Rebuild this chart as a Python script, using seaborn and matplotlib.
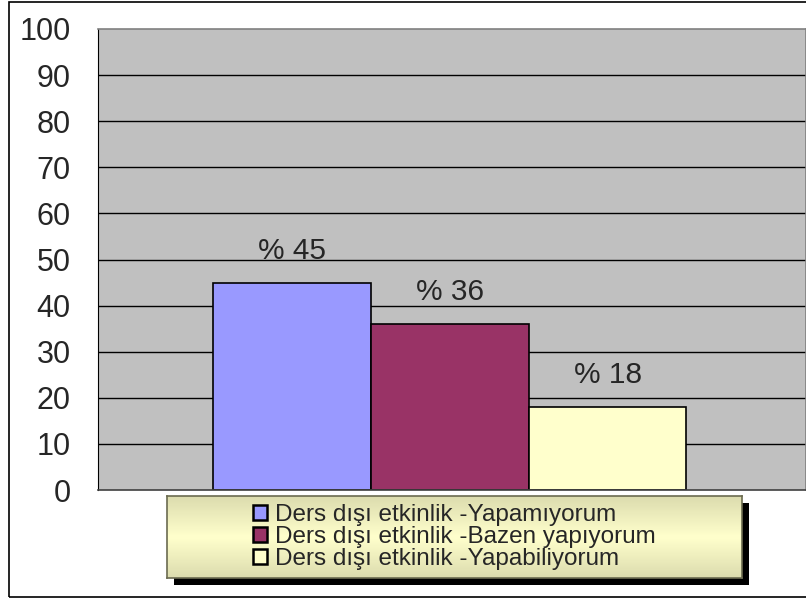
import matplotlib
matplotlib.use("Agg")
import matplotlib.pyplot as plt
import seaborn as sns
import numpy as np
import pandas as pd
from matplotlib.patches import Rectangle

# Data
series = ["Ders dışı etkinlik -Yapamıyorum",
          "Ders dışı etkinlik -Bazen yapıyorum",
          "Ders dışı etkinlik -Yapabiliyorum"]
values = [45, 36, 18]
value_labels = ["% 45", "% 36", "% 18"]
colors = ["#9999FF", "#993366", "#FFFFCC"]
yticks = [0, 10, 20, 30, 40, 50, 60, 70, 80, 90, 100]

df = pd.DataFrame({"cat": [""] * 3, "series": series, "value": values})

sns.set_style("white")
plt.rcParams["font.family"] = ["Liberation Sans", "DejaVu Sans"]

W, H = 806, 599
fig = plt.figure(figsize=(W / 100, H / 100), dpi=100)
ax = fig.add_axes([98 / W, 1 - 490 / H, (806 - 98) / W, (490 - 29) / H])
ax.set_facecolor("#C0C0C0")

sns.barplot(data=df, x="cat", y="value", hue="series", palette=colors,
            width=0.668, edgecolor="black", linewidth=1.2, saturation=1,
            ax=ax, legend=True)

ax.set_ylim(0, 100)
ax.set_xlim(-0.497, 0.503)
ax.set_yticks(yticks)
ax.set_yticklabels([str(t) for t in yticks], fontsize=22)
ax.tick_params(axis="y", direction="out", length=8.6, width=1, color="black", pad=11)
ax.set_xticks([])
ax.set_xlabel("")
ax.set_ylabel("")
for t in yticks[1:-1]:
    ax.axhline(t, color="black", linewidth=1, zorder=0.5)
for s in ["top", "right"]:
    ax.spines[s].set_color("#808080")
    ax.spines[s].set_linewidth(1.2)
ax.spines["left"].set_color("black")
ax.spines["bottom"].set_color("#404040")
ax.spines["bottom"].set_linewidth(1.2)

# value labels above bars
for patch, lab in zip(ax.patches, value_labels):
    cx = patch.get_x() + patch.get_width() / 2
    ax.text(cx, patch.get_height() + 5.2, lab, ha="center", va="baseline",
            fontsize=21.5)

# legend box: shadow + gradient panel
lx0, lx1, ly0, ly1 = 167, 742, 496, 578
fig.patches.append(Rectangle(((lx0 + 7) / W, 1 - (ly1 + 7) / H), (lx1 - lx0) / W,
                             (ly1 - ly0) / H, transform=fig.transFigure,
                             facecolor="black", edgecolor="none", zorder=1))
lax = fig.add_axes([lx0 / W, 1 - ly1 / H, (lx1 - lx0) / W, (ly1 - ly0) / H])
lax.set_zorder(2)
grad = np.abs(np.linspace(-1, 1, 100)).reshape(-1, 1)
cmap = matplotlib.colors.LinearSegmentedColormap.from_list("lg", ["#FFFFCC", "#DCDCAE"])
lax.imshow(grad, aspect="auto", cmap=cmap, extent=[0, 1, 0, 1])
lax.set_xticks([])
lax.set_yticks([])
for s in lax.spines.values():
    s.set_color("#6B6B50")
    s.set_linewidth(1.2)

handles, labels = ax.get_legend_handles_labels()
ax.get_legend().remove()
leg = lax.legend(handles, labels, loc="center", bbox_to_anchor=(0.5, 0.5),
                 fontsize=17.5, frameon=False,
                 handlelength=0.55, handleheight=0.55, handletextpad=0.35,
                 labelspacing=0, borderpad=0, borderaxespad=0)
for h in leg.legend_handles:
    h.set_edgecolor("black")
    h.set_linewidth(1.8)

# outer chart frame
fig.patches.append(Rectangle((9 / W, 2 / H), 1.1, 1 - 4 / H,
                             transform=fig.transFigure, fill=False,
                             edgecolor="black", linewidth=1.2, zorder=-1))

fig.savefig("out.png", dpi=100)
